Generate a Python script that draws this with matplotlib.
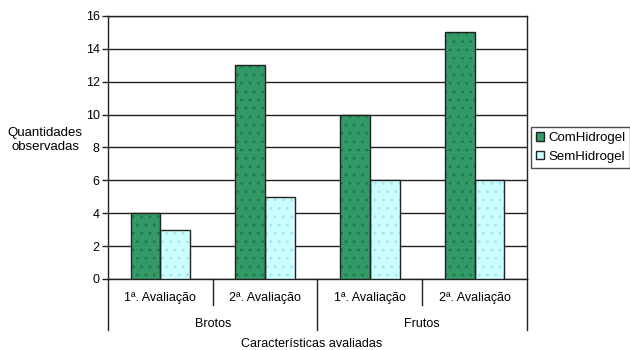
import matplotlib.pyplot as plt
import matplotlib.patches as mpatches
import matplotlib.transforms as mtransforms
import numpy as np

plt.rcParams['font.family'] = ['Liberation Sans', 'DejaVu Sans']
plt.rcParams['hatch.linewidth'] = 0.8

sub_labels = ['1ª. Avaliação', '2ª. Avaliação', '1ª. Avaliação', '2ª. Avaliação']
group_labels = ['Brotos', 'Frutos']
com_hidrogel = [4, 13, 10, 15]
sem_hidrogel = [3, 5, 6, 6]

green = '#339966'
cyan = '#CCFFFF'
edge = '#222222'

fig = plt.figure(figsize=(6.3, 3.5), dpi=100)
ax = fig.add_axes([0.1714, 0.2029, 0.665, 0.7514])

x = np.arange(len(sub_labels))
w = 0.285
# fill with faint dotted pattern (hatch takes the edge colour), then outline on top
ax.bar(x - w / 2, com_hidrogel, w, color=green, edgecolor='#1F7A4A',
       linewidth=0, hatch='..', zorder=3)
ax.bar(x + w / 2, sem_hidrogel, w, color=cyan, edgecolor='#A6E6E6',
       linewidth=0, hatch='..', zorder=3)
ax.bar(x - w / 2, com_hidrogel, w, fill=False, edgecolor=edge, linewidth=1.0, zorder=4)
ax.bar(x + w / 2, sem_hidrogel, w, fill=False, edgecolor=edge, linewidth=1.0, zorder=4)

ax.set_xlim(-0.5, 3.5)
ax.set_ylim(0, 16)
ax.set_yticks(range(0, 17, 2))
ax.yaxis.grid(True, color=edge, linewidth=1.0, zorder=0)
ax.set_axisbelow(True)
for s in ax.spines.values():
    s.set_color(edge)
    s.set_linewidth(1.0)
ax.tick_params(axis='y', length=4, width=1.0, color=edge, labelsize=9, pad=2)
ax.set_xticks([])

# category labels below the axis
trans = mtransforms.blended_transform_factory(ax.transData, ax.transAxes)
for i, lab in enumerate(sub_labels):
    ax.text(i, -0.072, lab, transform=trans, ha='center', va='center', fontsize=9)
for i, lab in enumerate(group_labels):
    ax.text(0.5 + 2 * i, -0.17, lab, transform=trans, ha='center', va='center', fontsize=9)
for xs in [-0.5, 0.5, 1.5, 2.5, 3.5]:
    low = -0.195 if xs in (-0.5, 1.5, 3.5) else -0.1
    ax.plot([xs, xs], [0, low], transform=trans, color=edge, linewidth=1.0, clip_on=False)

fig.text(0.495, 0.017, 'Características avaliadas', ha='center', va='center', fontsize=9)
fig.text(0.072, 0.6, 'Quantidades\nobservadas', ha='center', va='center', fontsize=9.5)

handles = [mpatches.Patch(facecolor=green, edgecolor=edge, label='ComHidrogel'),
           mpatches.Patch(facecolor=cyan, edgecolor=edge, label='SemHidrogel')]
leg = ax.legend(handles=handles, loc='center left', bbox_to_anchor=(1.003, 0.5), fontsize=9.5,
                frameon=True, fancybox=False, edgecolor=edge,
                handlelength=0.6, handleheight=0.6, handletextpad=0.3,
                borderpad=0.4, labelspacing=0.5, borderaxespad=0.2)
leg.get_frame().set_linewidth(1.0)

fig.savefig('out.png', dpi=100)
